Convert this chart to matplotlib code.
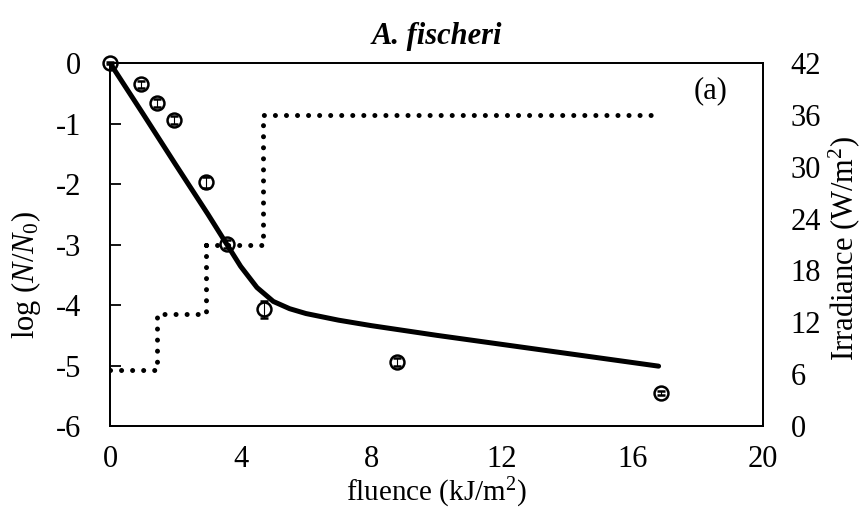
import matplotlib
matplotlib.use("Agg")
import matplotlib.pyplot as plt

plt.rcParams['font.family'] = ['Liberation Serif', 'DejaVu Serif']
plt.rcParams['mathtext.fontset'] = 'custom'
plt.rcParams['mathtext.rm'] = 'Liberation Serif'
plt.rcParams['mathtext.it'] = 'Liberation Serif:italic'
plt.rcParams['axes.unicode_minus'] = False

# measured survival points
fluence = [0.0, 0.96, 1.45, 1.97, 2.93, 3.57, 4.71, 8.78, 16.86]
log_surv = [0.0, -0.35, -0.66, -0.94, -1.97, -2.99, -4.07, -4.94, -5.45]
surv_err = [0.02, 0.06, 0.06, 0.07, 0.09, 0.06, 0.14, 0.06, 0.03]

# model fit
fit_x = [0, 1, 2, 3, 3.57, 4, 4.5, 5, 5.5, 6, 7, 8, 10, 12, 14, 16.8]
fit_y = [0, -0.83, -1.67, -2.5, -2.99, -3.36, -3.71, -3.94, -4.06, -4.14,
         -4.25, -4.34, -4.5, -4.65, -4.8, -5.01]

# irradiance steps
step_x = [0, 1.45, 2.95, 4.7, 16.8]
irr = [6.5, 13, 21, 36]

fig = plt.figure(figsize=(8.63, 5.09), dpi=100)
ax = fig.add_axes([0.1275, 0.163, 0.7567, 0.713])
ax2 = ax.twinx()

ax2.plot(step_x, irr + [irr[-1]], drawstyle='steps-post', color='black',
         lw=3.6, linestyle=(0, (0.01, 2.2)), dash_capstyle='round')
ax2.set_ylim(0, 42)
ax2.set_yticks(range(0, 43, 6))
ax2.tick_params(axis='y', length=0, labelsize=22, pad=20)
ax2.set_ylabel('Irradiance (W/m$^2$)', fontsize=22)
ax2.yaxis.set_label_coords(1.097, 0.49)

ax.set_zorder(ax2.get_zorder() + 1)
ax.patch.set_visible(False)
ax.plot(fit_x, fit_y, color='black', lw=3.6, solid_capstyle='round')
ax.errorbar(fluence, log_surv, yerr=surv_err, fmt='o', mfc='none', mec='black',
            mew=1.8, ms=10, ecolor='black', elinewidth=0.8, capsize=3,
            clip_on=False, zorder=5)

ax.set_xlim(0, 20)
ax.set_ylim(-6, 0)
ax.set_xticks(range(0, 21, 4))
ax.set_yticks(range(-6, 1))
ax.tick_params(axis='x', length=0, labelsize=22, pad=14)
ax.tick_params(axis='y', direction='in', length=8, width=1.3, labelsize=22, pad=21)
for ax_ in (ax, ax2):
    for s in ax_.spines.values():
        s.set_linewidth(1.3)

ax.set_xlabel('fluence (kJ/m$^2$)', fontsize=21)
ax.xaxis.set_label_coords(0.5, -0.138)
ax.set_ylabel(r'log ($\mathit{N/N_0}$)', fontsize=22)
ax.yaxis.set_label_coords(-0.103, 0.416)
ax.set_title('A. fischeri', fontsize=22, fontweight='bold', style='italic', pad=14)
ax.text(0.92, 0.965, '(a)', transform=ax.transAxes, ha='center', va='top', fontsize=22)

fig.savefig('out.png', dpi=100)
